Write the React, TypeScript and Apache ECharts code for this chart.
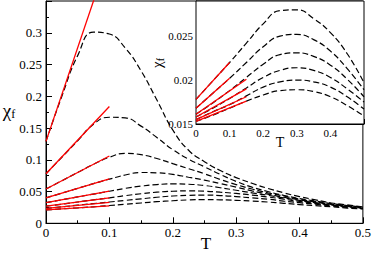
import React, { useEffect, useRef } from "react";
import * as echarts from "echarts";

// Main panel: temperature grid and susceptibility curves (dashed)
const mainT = [0, 0.025, 0.05, 0.075, 0.1, 0.125, 0.15, 0.175, 0.2, 0.225, 0.25, 0.275, 0.3, 0.325, 0.35, 0.375, 0.4, 0.425, 0.45, 0.475, 0.5];
const mainC1 = [0.129, 0.2, 0.264, 0.301, 0.298, 0.276, 0.24, 0.194, 0.147, 0.115, 0.097, 0.083, 0.072, 0.063, 0.055, 0.048, 0.042, 0.037, 0.032, 0.029, 0.026];
const mainC2 = [0.078, 0.104, 0.13, 0.156, 0.167, 0.166, 0.153, 0.135, 0.116, 0.101, 0.089, 0.077, 0.066, 0.057, 0.05, 0.044, 0.039, 0.035, 0.031, 0.028, 0.0255];
const mainC3 = [0.054, 0.067, 0.08, 0.093, 0.104, 0.11, 0.108, 0.102, 0.094, 0.086, 0.078, 0.069, 0.061, 0.054, 0.048, 0.043, 0.038, 0.034, 0.03, 0.0275, 0.025];
const mainC4 = [0.04, 0.0475, 0.055, 0.0625, 0.0695, 0.076, 0.08, 0.0795, 0.077, 0.0725, 0.068, 0.0625, 0.057, 0.051, 0.046, 0.041, 0.037, 0.0335, 0.03, 0.027, 0.0245];
const mainC5 = [0.0325, 0.037, 0.0415, 0.046, 0.0505, 0.055, 0.0585, 0.061, 0.062, 0.0615, 0.0595, 0.056, 0.052, 0.048, 0.044, 0.04, 0.036, 0.0325, 0.029, 0.0265, 0.024];
const mainC6 = [0.027, 0.03, 0.0335, 0.037, 0.04, 0.0435, 0.0465, 0.049, 0.0505, 0.051, 0.0505, 0.049, 0.047, 0.0445, 0.0415, 0.038, 0.0345, 0.0315, 0.0285, 0.026, 0.0235];
const mainC7 = [0.0235, 0.026, 0.0285, 0.031, 0.0335, 0.036, 0.0385, 0.041, 0.043, 0.044, 0.0445, 0.0437, 0.042, 0.04, 0.038, 0.035, 0.0325, 0.03, 0.0275, 0.025, 0.023];
const mainC8 = [0.021, 0.0227, 0.0243, 0.026, 0.028, 0.03, 0.032, 0.034, 0.0355, 0.0368, 0.0372, 0.037, 0.0362, 0.035, 0.0335, 0.0315, 0.0295, 0.0277, 0.026, 0.024, 0.0225];
const mainCurves = [mainC1, mainC2, mainC3, mainC4, mainC5, mainC6, mainC7, mainC8];

// Main panel: low-T linear fits (red), [T0, chi0, T1, chi1]
const mainFits = [
  [0, 0.129, 0.1, 0.424],
  [0, 0.078, 0.1, 0.184],
  [0, 0.054, 0.1, 0.106],
  [0, 0.04, 0.1, 0.07],
  [0, 0.0325, 0.1, 0.0505],
  [0, 0.027, 0.1, 0.04],
  [0, 0.0235, 0.1, 0.033],
  [0, 0.021, 0.1, 0.0275],
];

// Inset
const insetT = [0, 0.05, 0.1, 0.15, 0.2, 0.25, 0.3, 0.35, 0.4, 0.45, 0.5];
const insetC1 = [0.0178, 0.0199, 0.022, 0.0242, 0.0264, 0.0279, 0.028, 0.027, 0.0254, 0.023, 0.0197];
const insetC2 = [0.0168, 0.0185, 0.0202, 0.022, 0.0238, 0.025, 0.0252, 0.0246, 0.0233, 0.0213, 0.0189];
const insetC3 = [0.0161, 0.0174, 0.0188, 0.0203, 0.0218, 0.0229, 0.0231, 0.0227, 0.0217, 0.0201, 0.0181];
const insetC4 = [0.0158, 0.0168, 0.0179, 0.0191, 0.0203, 0.0211, 0.0214, 0.0211, 0.0203, 0.019, 0.0175];
const insetC5 = [0.0155, 0.0164, 0.0172, 0.0182, 0.0192, 0.0198, 0.02, 0.0198, 0.0192, 0.0181, 0.0167];
const insetC6 = [0.0153, 0.016, 0.0168, 0.0176, 0.0183, 0.0188, 0.0189, 0.0187, 0.0181, 0.0171, 0.0159];
const insetCurves = [insetC1, insetC2, insetC3, insetC4, insetC5, insetC6];
const insetFits = [
  [0, 0.0178, 0.1, 0.022],
  [0, 0.0168, 0.1, 0.0202],
  [0, 0.0161, 0.15, 0.0201],
  [0, 0.0158, 0.15, 0.019],
  [0, 0.0155, 0.15, 0.0181],
  [0, 0.0153, 0.15, 0.0176],
];

const FONT = "Liberation Serif";

function fmt(v: number): string {
  const r = Math.round(v * 100000) / 100000;
  return String(r);
}

function axisCommon(fontSize: number, major: number, minor: number, margin: number) {
  return {
    axisLine: { onZero: false, lineStyle: { color: "#000", width: 1 } },
    axisTick: { inside: true, length: major, lineStyle: { color: "#000", width: 1 } },
    minorTick: { show: true, splitNumber: 2, length: minor, lineStyle: { color: "#000", width: 1 } },
    splitLine: { show: false },
    minorSplitLine: { show: false },
    axisLabel: { color: "#000", fontFamily: FONT, fontSize, margin },
  };
}

export default function App() {
  const ref = useRef<HTMLDivElement>(null);
  useEffect(() => {
    document.body.style.margin = "0";
    if (!ref.current) return;
    const chart = echarts.init(ref.current, null, { renderer: "svg" });
    const dash = [6, 3];
    const series: any[] = [];
    mainCurves.forEach((c) => {
      series.push({
        type: "line",
        xAxisIndex: 0,
        yAxisIndex: 0,
        data: mainT.map((t, i) => [t, c[i]]),
        showSymbol: false,
        smooth: 0.5,
        lineStyle: { color: "#000", width: 1.2, type: dash },
        z: 2,
      });
    });
    mainFits.forEach((f) => {
      series.push({
        type: "line",
        xAxisIndex: 0,
        yAxisIndex: 0,
        data: [[f[0], f[1]], [f[2], f[3]]],
        showSymbol: false,
        clip: true,
        lineStyle: { color: "#ff0000", width: 1.3 },
        z: 3,
      });
    });
    insetCurves.forEach((c) => {
      series.push({
        type: "line",
        xAxisIndex: 1,
        yAxisIndex: 1,
        data: insetT.map((t, i) => [t, c[i]]),
        showSymbol: false,
        smooth: 0.5,
        lineStyle: { color: "#000", width: 1.2, type: dash },
        z: 4,
      });
    });
    insetFits.forEach((f) => {
      series.push({
        type: "line",
        xAxisIndex: 1,
        yAxisIndex: 1,
        data: [[f[0], f[1]], [f[2], f[3]]],
        showSymbol: false,
        lineStyle: { color: "#ff0000", width: 1.3 },
        z: 5,
      });
    });

    const option: any = {
      animation: false,
      backgroundColor: "#fff",
      textStyle: { fontFamily: FONT },
      grid: [
        { left: 46, right: 10, top: 1, bottom: 29.7, show: true, borderColor: "#000", borderWidth: 1, backgroundColor: "transparent" },
        { left: 196, right: 10, top: 1, bottom: 129, show: true, borderColor: "#000", borderWidth: 1, backgroundColor: "#fff", z: 3 },
      ],
      xAxis: [
        (() => {
          const a: any = { gridIndex: 0, type: "value", min: 0, max: 0.5, interval: 0.1, ...axisCommon(13, 6, 3, 3) };
          a.axisLabel.formatter = (v: number) => fmt(v);
          return a;
        })(),
        (() => {
          const a: any = { gridIndex: 1, type: "value", min: 0, max: 0.5, interval: 0.1, ...axisCommon(11, 5, 3, 3) };
          a.axisLabel.formatter = (v: number) => (v > 0.45 ? "" : fmt(v));
          return a;
        })(),
      ],
      yAxis: [
        (() => {
          const a: any = { gridIndex: 0, type: "value", min: 0, max: 0.35, interval: 0.05, ...axisCommon(13, 6, 3, 4) };
          a.axisLabel.formatter = (v: number) => (v > 0.33 ? "" : fmt(v));
          return a;
        })(),
        (() => {
          const a: any = { gridIndex: 1, type: "value", min: 0.015, max: 0.029, interval: 0.005, ...axisCommon(11, 5, 3, 3) };
          a.axisLabel.formatter = (v: number) => {
            const k = Math.round(v / 0.005);
            return Math.abs(k * 0.005 - v) < 1e-6 ? fmt(v) : "";
          };
          return a;
        })(),
      ],
      graphic: [
        {
          type: "text",
          x: 206,
          y: 243,
          style: { text: "T", fontFamily: FONT, fontSize: 17, fill: "#000", align: "center", verticalAlign: "middle" },
        },
        {
          type: "text",
          x: 9,
          y: 110,
          style: {
            text: "{a|χ}{b|f}",
            align: "center",
            verticalAlign: "middle",
            rich: {
              a: { fontFamily: FONT, fontSize: 19, fill: "#000", lineHeight: 20 },
              b: { fontFamily: FONT, fontSize: 12, fill: "#000", lineHeight: 8, verticalAlign: "bottom" },
            },
          },
        },
        {
          type: "text",
          x: 280,
          y: 142,
          style: { text: "T", fontFamily: FONT, fontSize: 14, fill: "#000", align: "center", verticalAlign: "middle" },
        },
        {
          type: "text",
          x: 157,
          y: 63,
          rotation: Math.PI / 2,
          style: {
            text: "{a|χ}{b|f}",
            align: "center",
            verticalAlign: "middle",
            rich: {
              a: { fontFamily: FONT, fontSize: 15, fill: "#000", lineHeight: 16 },
              b: { fontFamily: FONT, fontSize: 10, fill: "#000", lineHeight: 6, verticalAlign: "bottom" },
            },
          },
        },
      ],
      series,
    };
    chart.setOption(option);
    return () => chart.dispose();
  }, []);
  return <div ref={ref} style={{ position: "fixed", left: 0, top: 0, width: 374, height: 253, background: "#fff" }} />;
}
